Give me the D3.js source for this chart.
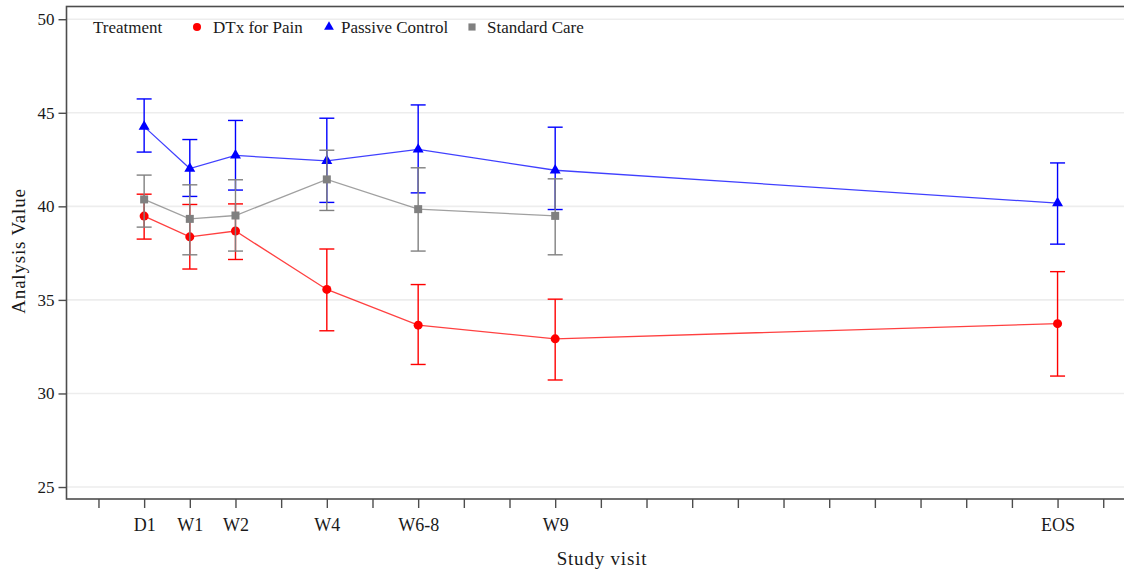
<!DOCTYPE html>
<html>
<head>
<meta charset="utf-8">
<script src="https://cdn.jsdelivr.net/npm/d3@7"></script>
<style>
  html, body { margin: 0; padding: 0; background: #fff; }
  svg { display: block; }
  text { font-family: "Liberation Serif", "DejaVu Serif", serif; fill: #1a1a1a; }
</style>
</head>
<body>
<svg id="chart" width="1124" height="574"></svg>
<script>
// ---- data ----
const visitLabels = ["D1", "W1", "W2", "W4", "W6-8", "W9", "EOS"];
const visitPos    = [1, 2, 3, 5, 7, 10, 21];
const xTickValues = d3.range(0, 23);
const yTickValues = [25, 30, 35, 40, 45, 50];

const seriesNames = ["DTx for Pain", "Passive Control", "Standard Care"];

const dtxMean  = [39.48, 38.37, 38.68, 35.56, 33.65, 32.92, 33.73];
const dtxLower = [38.25, 36.65, 37.16, 33.35, 31.55, 30.72, 30.93];
const dtxUpper = [40.65, 40.10, 40.13, 37.72, 35.82, 35.04, 36.51];

const pcMean  = [44.26, 42.02, 42.72, 42.43, 43.04, 41.93, 40.17];
const pcLower = [42.90, 40.53, 40.87, 40.21, 40.72, 39.83, 37.98];
const pcUpper = [45.74, 43.57, 44.59, 44.71, 45.42, 44.23, 42.32];

const scMean  = [40.37, 39.33, 39.51, 41.44, 39.85, 39.49];
const scLower = [38.89, 37.41, 37.61, 39.78, 37.61, 37.41];
const scUpper = [41.67, 41.15, 41.42, 43.00, 42.06, 41.47];

const xAxisTitle = "Study visit";
const yAxisTitle = "Analysis Value";
const legendTitle = "Treatment";

// ---- layout ----
const svg = d3.select("#chart");
const plot = { left: 66.5, right: 1132, top: 6.5, bottom: 499 };

const x = d3.scaleLinear().domain([-0.7, 22.63]).range([plot.left, plot.right]);
const y = d3.scaleLinear().domain([24.36, 50.68]).range([plot.bottom, plot.top]);

const series = [
  { name: seriesNames[0], color: "#ff0000", shape: d3.symbolCircle, size: 64, mean: dtxMean, lo: dtxLower, hi: dtxUpper },
  { name: seriesNames[1], color: "#0000ff", shape: d3.symbolTriangle, size: 52, mean: pcMean, lo: pcLower, hi: pcUpper },
  { name: seriesNames[2], color: "#808080", shape: d3.symbolSquare, size: 64, mean: scMean, lo: scLower, hi: scUpper }
];

// gridlines
svg.append("g")
  .selectAll("line")
  .data(yTickValues)
  .join("line")
  .attr("x1", plot.left).attr("x2", plot.right)
  .attr("y1", d => y(d)).attr("y2", d => y(d))
  .attr("stroke", "#ededed").attr("stroke-width", 1.6);

// y axis
const yAxis = d3.axisLeft(y).tickValues(yTickValues).tickSize(8).tickPadding(4).tickFormat(d3.format("d"));
const gy = svg.append("g").attr("transform", `translate(${plot.left},0)`).call(yAxis);
gy.attr("font-family", null);
gy.select(".domain").remove();
gy.selectAll(".tick line").attr("stroke", "#4d4d4d").attr("stroke-width", 1.4);
gy.selectAll(".tick text").attr("font-size", 17).attr("fill", "#1a1a1a");

// x axis
const labelByPos = new Map(visitPos.map((p, i) => [p, visitLabels[i]]));
const xAxis = d3.axisBottom(x).tickValues(xTickValues).tickSize(9).tickPadding(10)
  .tickFormat(d => labelByPos.get(d) || "");
const gx = svg.append("g").attr("transform", `translate(0,${plot.bottom})`).call(xAxis);
gx.attr("font-family", null);
gx.select(".domain").remove();
gx.selectAll(".tick line").attr("stroke", "#4d4d4d").attr("stroke-width", 1.4);
gx.selectAll(".tick text").attr("font-size", 18).attr("fill", "#1a1a1a");

// frame
svg.append("rect")
  .attr("x", plot.left).attr("y", plot.top)
  .attr("width", plot.right - plot.left).attr("height", plot.bottom - plot.top)
  .attr("fill", "none").attr("stroke", "#4d4d4d").attr("stroke-width", 1.6);

// series
series.forEach(s => {
  const pts = s.mean.map((m, i) => ({ x: visitPos[i], m, lo: s.lo[i], hi: s.hi[i] }));
  const g = svg.append("g");
  g.append("path")
    .datum(pts)
    .attr("fill", "none")
    .attr("stroke", s.color).attr("stroke-opacity", 0.75).attr("stroke-width", 1.3)
    .attr("d", d3.line().x(d => x(d.x)).y(d => y(d.m)));
  const eb = g.selectAll("g.eb").data(pts).join("g");
  eb.append("line")
    .attr("x1", d => x(d.x)).attr("x2", d => x(d.x))
    .attr("y1", d => y(d.lo)).attr("y2", d => y(d.hi))
    .attr("stroke", s.color).attr("stroke-width", 1.4);
  eb.append("line")
    .attr("x1", d => x(d.x) - 7.5).attr("x2", d => x(d.x) + 7.5)
    .attr("y1", d => y(d.lo)).attr("y2", d => y(d.lo))
    .attr("stroke", s.color).attr("stroke-width", 1.4);
  eb.append("line")
    .attr("x1", d => x(d.x) - 7.5).attr("x2", d => x(d.x) + 7.5)
    .attr("y1", d => y(d.hi)).attr("y2", d => y(d.hi))
    .attr("stroke", s.color).attr("stroke-width", 1.4);
  g.selectAll("path.mk").data(pts).join("path")
    .attr("class", "mk")
    .attr("transform", d => `translate(${x(d.x)},${y(d.m)})`)
    .attr("d", d3.symbol().type(s.shape).size(s.size))
    .attr("fill", s.color);
});

// legend
const leg = svg.append("g");
leg.append("text").attr("x", 93).attr("y", 33).attr("font-size", 17).text(legendTitle);
const legPos = [
  { mx: 197, tx: 213 },
  { mx: 329, tx: 341 },
  { mx: 472, tx: 487 }
];
series.forEach((s, i) => {
  leg.append("path")
    .attr("transform", `translate(${legPos[i].mx},27)`)
    .attr("d", d3.symbol().type(s.shape).size(s.size * 0.8))
    .attr("fill", s.color);
  leg.append("text").attr("x", legPos[i].tx).attr("y", 33).attr("font-size", 17).text(s.name);
});

// axis titles
svg.append("text")
  .attr("x", 602).attr("y", 565)
  .attr("text-anchor", "middle").attr("font-size", 19)
  .attr("letter-spacing", 0.8)
  .text(xAxisTitle);
svg.append("text")
  .attr("transform", "translate(25,251) rotate(-90)")
  .attr("text-anchor", "middle").attr("font-size", 19)
  .attr("letter-spacing", 0.8)
  .text(yAxisTitle);
</script>
</body>
</html>
